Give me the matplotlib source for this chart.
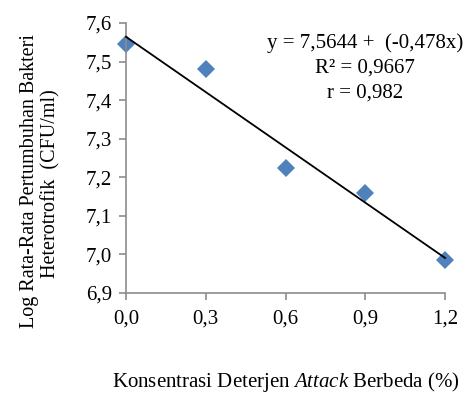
import numpy as np
import matplotlib.pyplot as plt

plt.rcParams['font.family'] = 'Liberation Serif'
plt.rcParams['mathtext.fontset'] = 'custom'
plt.rcParams['mathtext.it'] = 'Liberation Serif:italic'
plt.rcParams['mathtext.rm'] = 'Liberation Serif'

konsentrasi = [0.0, 0.3, 0.6, 0.9, 1.2]
log_bakteri = [7.545, 7.481, 7.224, 7.159, 6.986]
intercept = 7.5644
slope = -0.478
xticks = [0.0, 0.3, 0.6, 0.9, 1.2]
yticks = [6.9, 7.0, 7.1, 7.2, 7.3, 7.4, 7.5, 7.6]

fig = plt.figure(figsize=(4.7, 3.97), dpi=100)
ax = fig.add_axes([0.268, 0.262, 0.679, 0.680])

xs = np.array([konsentrasi[0], konsentrasi[-1]])
ax.plot(xs, intercept + slope * xs, color='black', lw=1.3, zorder=3)
ax.plot(konsentrasi, log_bakteri, 'D', color='#4F81BD', ms=8.7,
        markeredgewidth=0, zorder=2)

ax.set_xlim(0, 1.2)
ax.set_ylim(6.9, 7.6)
ax.set_xticks(xticks)
ax.set_yticks(yticks)
ax.set_xticklabels([f'{v:.1f}'.replace('.', ',') for v in xticks])
ax.set_yticklabels([f'{v:.1f}'.replace('.', ',') for v in yticks])

for s in ['top', 'right']:
    ax.spines[s].set_visible(False)
for s in ['left', 'bottom']:
    ax.spines[s].set_color('#8c8c8c')
    ax.spines[s].set_linewidth(1.2)
ax.tick_params(colors='#8c8c8c', labelcolor='black', labelsize=15,
               length=5, width=1.2, direction='out')
ax.tick_params(axis='x', pad=7)
ax.tick_params(axis='y', pad=5)
for line in ax.lines:
    line.set_clip_on(False)

ax.set_xlabel(r'Konsentrasi Deterjen $\it{Attack}$ Berbeda (%)', fontsize=15,
              labelpad=30)

# y label, two lines placed by hand (tight line spacing as in the original)
fig.text(0.062, 0.545, 'Log Rata-Rata Pertumbuhan Bakteri', rotation=90,
         ha='center', va='center', fontsize=14.5)
fig.text(0.108, 0.537, 'Heterotrofik  (CFU/ml)', rotation=90,
         ha='center', va='center', fontsize=14.5)

ax.text(0.749, 0.926, 'y = 7,5644 +  (-0,478x)', transform=ax.transAxes,
        ha='center', va='center', fontsize=15)
ax.text(0.749, 0.833, 'R² = 0,9667', transform=ax.transAxes,
        ha='center', va='center', fontsize=15)
ax.text(0.749, 0.741, 'r = 0,982', transform=ax.transAxes,
        ha='center', va='center', fontsize=15)

fig.savefig('out.png', dpi=100)
